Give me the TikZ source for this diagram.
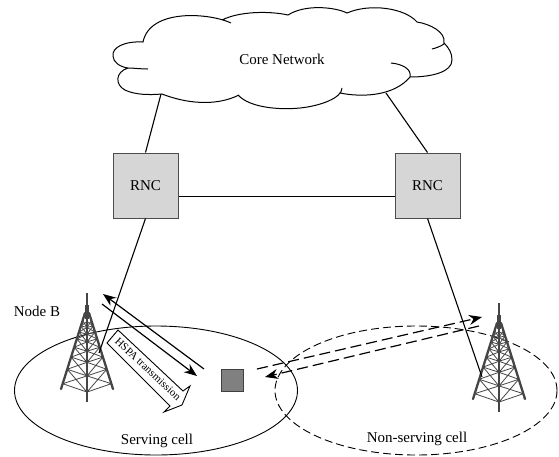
\documentclass[tikz,border=0pt]{standalone}
\usepackage{fontspec}
\setmainfont{Liberation Serif}
\usetikzlibrary{arrows.meta}
\definecolor{towergray}{gray}{0.27}
\tikzset{
  link/.style={line width=1.1pt,black},
  radio/.style={line width=1.2pt,-{Stealth[length=13pt,width=10pt]}},
  dradio/.style={radio,dash pattern=on 11pt off 5pt},
  rncbox/.style={draw=black!70,line width=1pt,fill=black!16,minimum width=65pt,minimum height=65pt,inner sep=0pt,font=\fontsize{15pt}{17pt}\selectfont},
  label/.style={inner sep=0pt,font=\fontsize{15pt}{17pt}\selectfont},
  cellcurve/.style={line width=0.9pt},
  tower/.pic={
    \draw[towergray,line width=1.9pt] (0,0) -- (0,14);
    \draw[towergray,line width=4pt] (0,12) -- (0,26);
    \draw[towergray,line width=2.3pt,line cap=round] (-2,20) -- (-26,96) (2,20) -- (26,96);
    \draw[towergray,line width=2.3pt] (0,20) -- (0,109);
    \foreach \ta/\tb in {0.1/0.17,0.17/0.25,0.25/0.34,0.34/0.45,0.45/0.58,0.58/0.74,0.74/0.93}{
      \draw[towergray,line width=0.8pt]
        ({-2-24*\tb},{20+76*\tb}) -- (0,{20+76*\tb+9*\tb}) -- ({2+24*\tb},{20+76*\tb})
        ({-2-24*\ta},{20+76*\ta}) -- (0,{20+76*\tb+9*\tb}) -- ({2+24*\ta},{20+76*\ta})
        ({-2-24*\tb},{20+76*\tb}) -- (0,{20+76*\ta+9*\ta}) -- ({2+24*\tb},{20+76*\tb});
    }
  }
}
\begin{document}
\begin{tikzpicture}[x=1pt,y=-1pt]
\useasboundingbox (0,0) rectangle (559,456);
% cells
\draw[cellcurve] (156,390.5) ellipse [x radius=141.5,y radius=64.5];
\draw[cellcurve,dash pattern=on 8pt off 4pt] (416,390.5) ellipse [x radius=141,y radius=64.5];
% towers
\pic at (87,293) {tower};
\pic at (499,303) {tower};
\coordinate (towerL) at (99,353);
\coordinate (towerR) at (482,377);
% cloud
\draw[line width=1pt]
  (162,94) .. controls (185,103) and (215,107) .. (239,95)
  (238,95) .. controls (250,108) and (280,110) .. (300,108)
           .. controls (320,106) and (342,98) .. (342,88)
  (340,93) .. controls (365,98) and (395,95) .. (410,77)
  (391,63) .. controls (402,64) and (412,69) .. (410,77)
           .. controls (432,77) and (452,72) .. (452,60)
           .. controls (452,53) and (449,48) .. (444,43)
  (432,49) .. controls (440,47) and (445,44) .. (444,43)
           .. controls (446,32) and (430,24) .. (417,22)
           .. controls (405,8) and (370,3) .. (347,13)
           .. controls (335,7) and (305,4) .. (288,15)
           .. controls (270,11) and (240,11) .. (222,20)
  (231,23) .. controls (210,13) and (150,8) .. (143,42)
           .. controls (125,41) and (112,47) .. (113,56)
           .. controls (113,62) and (120,67) .. (128,68)
  (148,69) .. controls (140,69) and (134,68) .. (128,68)
           .. controls (115,72) and (115,85) .. (125,90)
           .. controls (135,95) and (150,95) .. (162,94);
\node[label] (core) at (282,59) {Core Network};
\coordinate (cloudL) at (161,94);
\coordinate (cloudR) at (386,93);
% RNCs
\node[rncbox] (rncL) at (145.5,185.5) {RNC};
\node[rncbox] (rncR) at (427.5,185.5) {RNC};
% links
\draw[link] (cloudL) -- (rncL.north);
\draw[link] (cloudR) -- (rncR.north);
\draw[link] ([yshift=-10.8pt]rncL.east) -- ([yshift=-10.8pt]rncR.west);
\draw[link] (rncL.south) -- (towerL);
\draw[link] (rncR.south) -- (towerR);
% terminal
\node[draw=black!75,fill=black!50,line width=0.8pt,minimum size=22pt,inner sep=0pt] (ue) at (232.5,380) {};
% radio links
\coordinate (a1) at (204,369);
\coordinate (a2) at (103,294);
\coordinate (b1) at (102,304);
\coordinate (b2) at (197,376);
\coordinate (c1) at (257,369);
\coordinate (c2) at (482,317);
\coordinate (d1) at (479,326);
\coordinate (d2) at (265,377);
\draw[radio] (a1) -- (a2);
\draw[radio] (b1) -- (b2);
\draw[dradio] (c1) -- (c2);
\draw[dradio] (d1) -- (d2);
% big arrow
\draw[line width=0.9pt,fill=white,line join=miter]
  (118,330) -- (183,391) -- (190,386) -- (182,405) -- (164,412) -- (170,406) -- (107,343) -- cycle;
\node[rotate=-43,inner sep=0pt,font=\fontsize{11pt}{13pt}\selectfont] (hspa) at (148,369) {HSPA transmission};
% labels
\node[label] (nodeb) at (37,311) {Node B};
\node[label] (serving) at (157,441) {Serving cell};
\node[label] (nonserving) at (417,439) {Non-serving cell};
\end{tikzpicture}
\end{document}
